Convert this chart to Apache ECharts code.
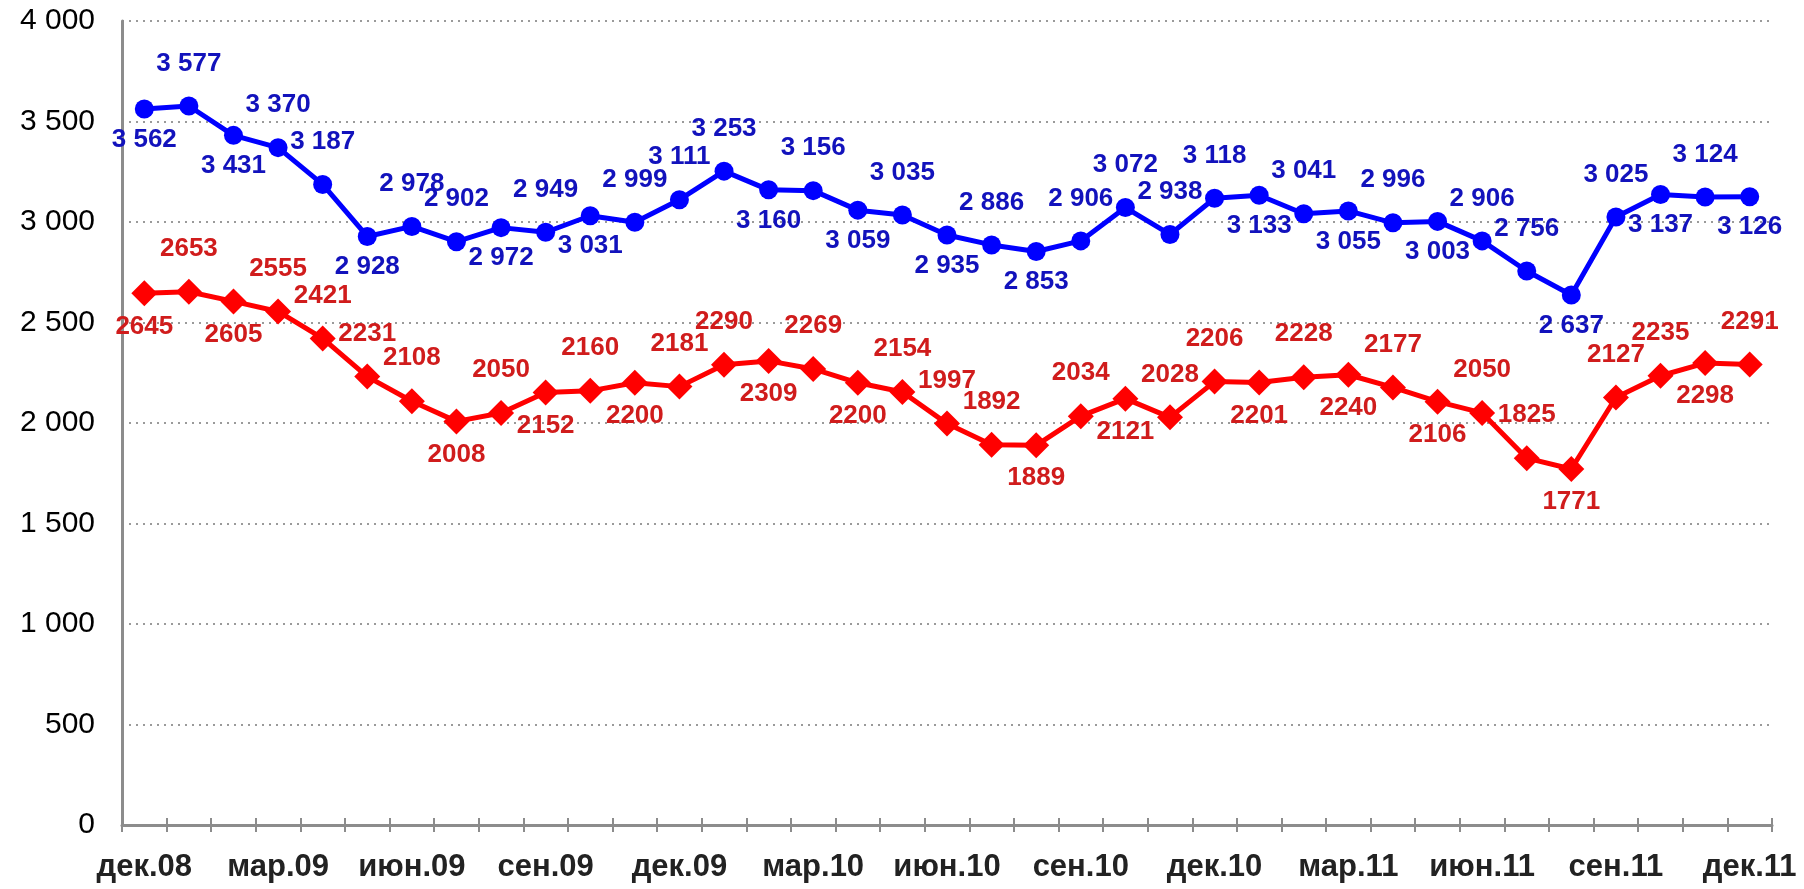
<!DOCTYPE html>
<html>
<head>
<meta charset="utf-8">
<title>chart</title>
<script src="https://cdn.jsdelivr.net/npm/echarts@6/dist/echarts.min.js"></script>
<style>
  html, body { margin: 0; padding: 0; background: #ffffff; }
  #chart { width: 1804px; height: 889px; }
</style>
</head>
<body>
<div id="chart"></div>
<script>
// месяцы, дек.08 .. дек.11
const months = [
  'дек.08', 'янв.09', 'фев.09', 'мар.09', 'апр.09', 'май.09', 'июн.09', 'июл.09', 'авг.09',
  'сен.09', 'окт.09', 'ноя.09', 'дек.09', 'янв.10', 'фев.10', 'мар.10', 'апр.10', 'май.10',
  'июн.10', 'июл.10', 'авг.10', 'сен.10', 'окт.10', 'ноя.10', 'дек.10', 'янв.11', 'фев.11',
  'мар.11', 'апр.11', 'май.11', 'июн.11', 'июл.11', 'авг.11', 'сен.11', 'окт.11', 'ноя.11',
  'дек.11'
];

const blueValues = [
  3562, 3577, 3431, 3370, 3187, 2928, 2978, 2902, 2972, 2949, 3031, 2999, 3111,
  3253, 3160, 3156, 3059, 3035, 2935, 2886, 2853, 2906, 3072, 2938, 3118, 3133,
  3041, 3055, 2996, 3003, 2906, 2756, 2637, 3025, 3137, 3124, 3126
];

const redValues = [
  2645, 2653, 2605, 2555, 2421, 2231, 2108, 2008, 2050, 2152, 2160, 2200, 2181,
  2290, 2309, 2269, 2200, 2154, 1997, 1892, 1889, 2034, 2121, 2028, 2206, 2201,
  2228, 2240, 2177, 2106, 2050, 1825, 1771, 2127, 2235, 2298, 2291
];

// где стоит подпись точки: t - сверху, b - снизу
const blueLabelSide = [
  'b', 't', 'b', 't', 't', 'b', 't', 't', 'b', 't', 'b', 't', 't',
  't', 'b', 't', 'b', 't', 'b', 't', 'b', 't', 't', 't', 't', 'b',
  't', 'b', 't', 'b', 't', 't', 'b', 't', 'b', 't', 'b'
];

const redLabelSide = [
  'b', 't', 'b', 't', 't', 't', 't', 'b', 't', 'b', 't', 'b', 't',
  't', 'b', 't', 'b', 't', 't', 't', 'b', 't', 'b', 't', 't', 'b',
  't', 'b', 't', 'b', 't', 't', 'b', 't', 't', 'b', 't'
];

const yTicks = [0, 500, 1000, 1500, 2000, 2500, 3000, 3500, 4000];

const FONT = "'Liberation Sans', Arial, sans-serif";

// 3562 -> "3 562"
function spaced(v) {
  return String(v).replace(/\B(?=(\d{3})+(?!\d))/g, ' ');
}

function buildData(values, sides, topDist, bottomDist) {
  return values.map((v, i) => ({
    value: v,
    label: sides[i] === 't'
      ? { position: 'top', distance: topDist }
      : { position: 'bottom', distance: bottomDist }
  }));
}

const chart = echarts.init(document.getElementById('chart'));

const option = {
  animation: false,
  backgroundColor: '#ffffff',
  grid: {
    left: 122,
    right: 32,
    top: 21,
    bottom: 64
  },
  xAxis: [
    {
      type: 'category',
      data: months,
      boundaryGap: true,
      axisLine: { show: true, lineStyle: { color: '#8c8c8c', width: 3 } },
      axisTick: {
        show: true,
        interval: 0,
        length: 7,
        lineStyle: { color: '#8c8c8c', width: 2 }
      },
      axisLabel: {
        interval: 2,
        margin: 27,
        color: '#222222',
        fontFamily: FONT,
        fontWeight: 'bold',
        fontSize: 31
      },
      splitLine: { show: false }
    },
    {
      // только внутренние риски, чтобы они пересекали ось
      type: 'category',
      data: months,
      position: 'bottom',
      boundaryGap: true,
      axisLine: { show: false },
      axisTick: {
        show: true,
        inside: true,
        interval: 0,
        length: 7,
        lineStyle: { color: '#8c8c8c', width: 2 }
      },
      axisLabel: { show: false },
      splitLine: { show: false }
    }
  ],
  yAxis: {
    type: 'value',
    min: yTicks[0],
    max: yTicks[yTicks.length - 1],
    interval: 500,
    axisLine: { show: true, lineStyle: { color: '#8c8c8c', width: 3 } },
    axisTick: { show: false },
    axisLabel: {
      margin: 27,
      color: '#000000',
      fontFamily: FONT,
      fontSize: 30,
      formatter: v => spaced(v)
    },
    splitLine: {
      show: true,
      lineStyle: { color: '#9a9a9a', width: 2, type: [2, 5] }
    }
  },
  series: [
    {
      name: 'blue',
      type: 'line',
      data: buildData(blueValues, blueLabelSide, 20, 8),
      symbol: 'circle',
      symbolSize: 19,
      lineStyle: { color: '#0000ff', width: 5 },
      itemStyle: { color: '#0000ff' },
      label: {
        show: true,
        color: '#1212bc',
        fontFamily: FONT,
        fontWeight: 'bold',
        fontSize: 26,
        lineHeight: 26,
        formatter: p => spaced(p.value)
      },
      z: 3
    },
    {
      name: 'red',
      type: 'line',
      data: buildData(redValues, redLabelSide, 17, 7),
      symbol: 'diamond',
      symbolSize: 26,
      lineStyle: { color: '#ff0000', width: 5 },
      itemStyle: { color: '#ff0000' },
      label: {
        show: true,
        color: '#d01c1c',
        fontFamily: FONT,
        fontWeight: 'bold',
        fontSize: 26,
        lineHeight: 26,
        formatter: '{c}'
      },
      z: 2
    }
  ]
};

chart.setOption(option);
</script>
</body>
</html>
